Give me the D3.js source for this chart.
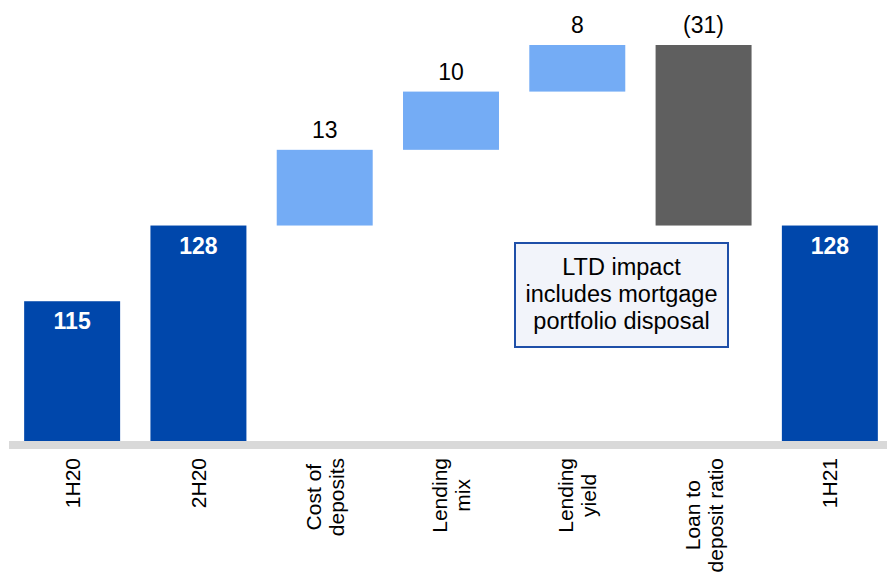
<!DOCTYPE html>
<html>
<head>
<meta charset="utf-8">
<script src="https://cdn.jsdelivr.net/npm/d3@7"></script>
<style>
  html, body { margin: 0; padding: 0; background: #fff; }
  svg { display: block; font-family: "Liberation Sans", Arial, sans-serif; }
</style>
</head>
<body>
<svg id="chart" width="887" height="572"></svg>
<script>
// Net interest income bridge, 1H20 to 1H21
const categories = ["1H20", "2H20", "Cost of\ndeposits", "Lending\nmix", "Lending\nyield", "Loan to\ndeposit ratio", "1H21"];
const values     = [115, 128, 13, 10, 8, -31, 128];
const kinds      = ["total", "total", "up", "up", "up", "down", "total"];
const valueLabels = ["115", "128", "13", "10", "8", "(31)", "128"];
const noteLines  = ["LTD impact", "includes mortgage", "portfolio disposal"];

const colors = { total: "#0047ab", up: "#74acf5", down: "#5f5f5f" };

// Build the floating segments of the waterfall
let running = 0;
const bars = categories.map((c, i) => {
  let lo, hi;
  if (kinds[i] === "total") { lo = null; hi = values[i]; running = values[i]; }
  else { const start = running; running += values[i]; lo = Math.min(start, running); hi = Math.max(start, running); }
  return { cat: c, kind: kinds[i], lo, hi, label: valueLabels[i] };
});

const svg = d3.select("#chart");

const x = d3.scaleBand().domain(categories).range([9, 893]).paddingInner(0.24).paddingOuter(0.12);
const y = d3.scaleLinear().domain([91, 159]).range([441, 45]);

// Baseline band
svg.append("rect").attr("x", 9).attr("y", 441).attr("width", 878).attr("height", 8).attr("fill", "#d9d9d9");

// Bars
svg.selectAll("rect.bar").data(bars).join("rect")
  .attr("class", "bar")
  .attr("x", d => x(d.cat))
  .attr("width", x.bandwidth())
  .attr("y", d => y(d.hi))
  .attr("height", d => (d.lo === null ? y.range()[0] : y(d.lo)) - y(d.hi))
  .attr("fill", d => colors[d.kind]);

// Value labels: white inside totals, black above movements
svg.selectAll("text.val").data(bars).join("text")
  .attr("class", "val")
  .attr("x", d => x(d.cat) + x.bandwidth() / 2)
  .attr("y", d => d.kind === "total" ? y(d.hi) + 28 : y(d.hi) - 12)
  .attr("text-anchor", "middle")
  .attr("font-size", 23)
  .attr("font-weight", d => d.kind === "total" ? "bold" : "normal")
  .attr("fill", d => d.kind === "total" ? "#fff" : "#000")
  .text(d => d.label);

// Rotated category labels
const lineGap = 23, fs = 21;
categories.forEach(c => {
  const lines = c.split("\n");
  const g = svg.append("g")
    .attr("transform", `translate(${x(c) + x.bandwidth() / 2},458) rotate(-90)`);
  const texts = lines.map((ln, i) => g.append("text")
    .attr("font-size", fs)
    .attr("fill", "#000")
    .attr("y", 7.5 - lineGap * (lines.length - 1) / 2 + i * lineGap)
    .text(ln));
  const maxLen = d3.max(texts, t => t.node().getComputedTextLength());
  texts.forEach(t => t.attr("text-anchor", "middle").attr("x", -maxLen / 2));
});

// Note box
const note = svg.append("g");
note.append("rect").attr("x", 515).attr("y", 243).attr("width", 213).attr("height", 104)
  .attr("fill", "#f2f4fa").attr("stroke", "#1f4fa8").attr("stroke-width", 2);
noteLines.forEach((ln, i) => note.append("text")
  .attr("x", 621.5).attr("y", 275 + i * 27)
  .attr("text-anchor", "middle").attr("font-size", 23.5).attr("fill", "#000")
  .text(ln));
</script>
</body>
</html>
